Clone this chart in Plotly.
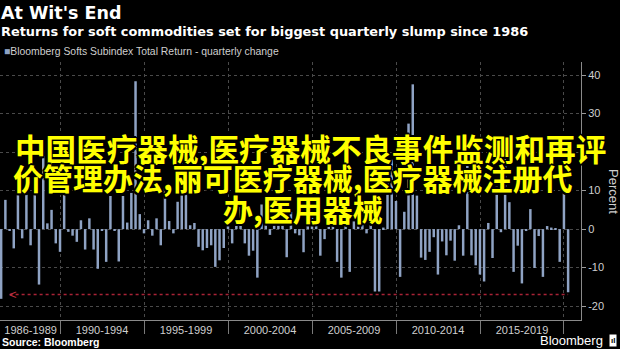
import pandas as pd
import plotly.graph_objects as go

# ---------------- data ----------------
title_text = "At Wit's End"
subtitle_text = "Returns for soft commodities set for biggest quarterly slump since 1986"
series_name = "Bloomberg Softs Subindex Total Return - quarterly change"
source_text = "Source: Bloomberg"
axis_title = "Percent"

first_quarter_end = "1986-06-30"
quarterly_change = [
    -18.1, 7.6, -0.4, -5.0, 9.7, -2.4, 8.9, -4.2, 9.7, -14.4,
    20.5, 1.5, 5.0, -3.7, -5.9, 9.5, -0.7, -1.7, -3.3, 2.3,
    -5.3, 2.8, -5.3, -10.3, -0.4, -8.5, 8.6, -0.4, -8.4, 8.6,
    1.7, 9.4, 38.4, 3.9, -1.1, 2.3, -1.7, 2.8, -4.2, 10.6,
    2.1, -1.1, 7.1, 19.0, 9.7, 1.0, 1.6, -4.6, -5.5, -4.9,
    -4.2, -9.8, -8.1, -4.9, 5.0, -3.7, 1.5, 6.0, -3.7, -6.9,
    -5.6, -12.6, 6.4, 4.0, -1.5, 8.5, 5.5, 3.0, -7.3, 4.5,
    -1.1, -1.6, -6.0, 5.0, 4.0, 6.5, -6.9, -2.6, 13.2, 7.0,
    -8.5, -12.6, 5.0, -11.1, 2.0, 4.0, 6.5, -1.1, 6.0, -16.2,
    -16.2, 0.4, 15.0, 18.0, 7.3, -12.4, 4.5, 27.4, 37.6, 8.7,
    -7.4, -8.0, -5.9, -2.1, -11.8, -3.2, -6.8, -3.0, -8.2, 1.0,
    -6.9, 21.0, -6.8, -9.4, -11.8, -13.6, 1.6, -7.5, 11.0, -0.8,
    19.5, 7.0, -11.1, -4.3, -14.1, -0.5, 5.2, -10.1, -1.8, -12.4,
    0.8, 0.4, 0.2, -8.5, 14.0, -16.4,
]

period_labels = ["1986-1989", "1990-1994", "1995-1999", "2000-2004",
                 "2005-2009", "2010-2014", "2015-2019"]
period_bounds = ["1990-01-01", "1995-01-01", "2000-01-01", "2005-01-01",
                 "2010-01-01", "2015-01-01", "2020-01-01"]

y_tick_vals = [-20, -10, 0, 10, 20, 30, 40]
y_tick_text = ["-20", "-10", "0", "10", "20", "30", "40"]

slump_level = -17.0

overlay_lines = [
    "中国医疗器械,医疗器械不良事件监测和再评",
    "价管理办法,丽可医疗器械,医疗器械注册代",
    "办,医用器械",
]

# ---------------- derived ----------------
start = pd.Timestamp(first_quarter_end)
quarter_ends = [start + pd.offsets.QuarterEnd(n=i, startingMonth=3) for i in range(len(quarterly_change))]

edges = [start] + [pd.Timestamp(b) for b in period_bounds]
label_pos = [edges[i] + (edges[i + 1] - edges[i]) / 2 for i in range(len(period_labels))]

# ---------------- style ----------------
W, H = 620, 349
ML, MR, MT, MB = 0, 39, 62, 29
PW, PH = W - ML - MR, H - MT - MB
BAR_COLOR = "#8fa3c4"
GRID = "#4a4a4a"
TXT = "#cfcfcf"


def px_x(px):
    return (px - ML) / PW


def px_y(py):
    return (H - MB - py) / PH


fig = go.Figure()
fig.add_trace(go.Bar(
    x=quarter_ends, y=quarterly_change, name=series_name,
    marker=dict(color=BAR_COLOR, line=dict(width=0)), showlegend=False,
))
fig.add_trace(go.Scatter(
    x=[quarter_ends[2], quarter_ends[-1]], y=[slump_level, slump_level],
    mode="lines", line=dict(color="#a82336", width=1.5, dash="dot"),
    showlegend=False, hoverinfo="skip",
))

annotations = [
    dict(x=quarter_ends[2], y=slump_level, xref="x", yref="y", text="<",
         showarrow=False, xanchor="left", yanchor="middle", xshift=-3,
         font=dict(family="Liberation Sans", size=13, color="#c0303f")),
    dict(x=px_x(0), y=px_y(13), xref="paper", yref="paper", text=title_text,
         showarrow=False, xanchor="left", yanchor="middle", borderpad=0,
         font=dict(family="DejaVu Sans", size=17.5, color="white", weight="bold")),
    dict(x=px_x(0), y=px_y(31), xref="paper", yref="paper", text=subtitle_text,
         showarrow=False, xanchor="left", yanchor="middle", borderpad=0,
         font=dict(family="DejaVu Sans", size=12.9, color="white", weight="bold")),
    dict(x=px_x(3), y=px_y(52), xref="paper", yref="paper",
         text=f'<span style="color:{BAR_COLOR}">■</span>{series_name}',
         showarrow=False, xanchor="left", yanchor="middle", borderpad=0,
         font=dict(family="Liberation Sans", size=10.4, color=TXT)),
    dict(x=px_x(1), y=px_y(342), xref="paper", yref="paper", text=source_text,
         showarrow=False, xanchor="left", yanchor="middle", borderpad=0,
         font=dict(family="Liberation Sans", size=10.5, color="white", weight="bold")),
    dict(x=px_x(604), y=px_y(340), xref="paper", yref="paper", text="Bloomberg",
         showarrow=False, xanchor="right", yanchor="middle", borderpad=0,
         font=dict(family="Liberation Sans", size=13, color="white")),
    dict(x=px_x(613), y=px_y(340), xref="paper", yref="paper", text="<b>ıl</b>",
         showarrow=False, xanchor="center", yanchor="middle", borderpad=1,
         bgcolor="white", font=dict(family="Liberation Sans", size=8, color="black")),
    dict(x=px_x(614), y=px_y(191), xref="paper", yref="paper", text=axis_title,
         showarrow=False, textangle=90, xanchor="center", yanchor="middle",
         font=dict(family="Liberation Sans", size=13, color=TXT)),
]

shadow = ("-2px 0 0 #000, 2px 0 0 #000, 0 -2px 0 #000, 0 2px 0 #000, "
          "-1.5px -1.5px 0 #000, 1.5px -1.5px 0 #000, -1.5px 1.5px 0 #000, 1.5px 1.5px 0 #000")
line_left = [14, 12, 222]
line_mid_y = [147.5, 177, 207.5]
line_size = [30.6, 30, 30]
for txt, lx, ly, sz in zip(overlay_lines, line_left, line_mid_y, line_size):
    annotations.append(dict(
        x=px_x(lx), y=px_y(ly), xref="paper", yref="paper", text=txt,
        showarrow=False, xanchor="left", yanchor="middle", borderpad=0,
        font=dict(family="Noto Sans CJK SC", size=sz, color="#ffff00",
                  weight="bold", shadow=shadow),
    ))

fig.update_layout(
    width=W, height=H,
    margin=dict(l=ML, r=MR, t=MT, b=MB, pad=0),
    paper_bgcolor="black", plot_bgcolor="black",
    bargap=0.4,
    showlegend=False,
    annotations=annotations,
    font=dict(family="Liberation Sans", color=TXT),
    xaxis=dict(
        type="date", range=["1986-06-05", "2021-01-05"],
        tickmode="array", tickvals=label_pos, ticktext=period_labels,
        ticks="", showgrid=False, zeroline=False,
        showline=True, linecolor="#8a8a8a", linewidth=1,
        tickfont=dict(family="Liberation Sans", size=11, color=TXT),
        minor=dict(tickmode="array", tickvals=period_bounds, ticks="outside",
                   ticklen=13, tickcolor="#7a7a7a", tickwidth=1,
                   showgrid=True, gridcolor=GRID, griddash="dot", gridwidth=1),
        fixedrange=True,
    ),
    yaxis=dict(
        side="right", range=[-23.6, 43.4],
        tickmode="array", tickvals=y_tick_vals, ticktext=y_tick_text,
        ticks="outside", ticklen=4, tickcolor="#9a9a9a",
        showgrid=True, gridcolor=GRID, griddash="dot", gridwidth=1,
        zeroline=False, showline=True, linecolor="#8a8a8a", linewidth=1,
        tickfont=dict(family="Liberation Sans", size=11, color=TXT),
        fixedrange=True,
    ),
)

fig.write_html("out.html", config={"displayModeBar": False})
